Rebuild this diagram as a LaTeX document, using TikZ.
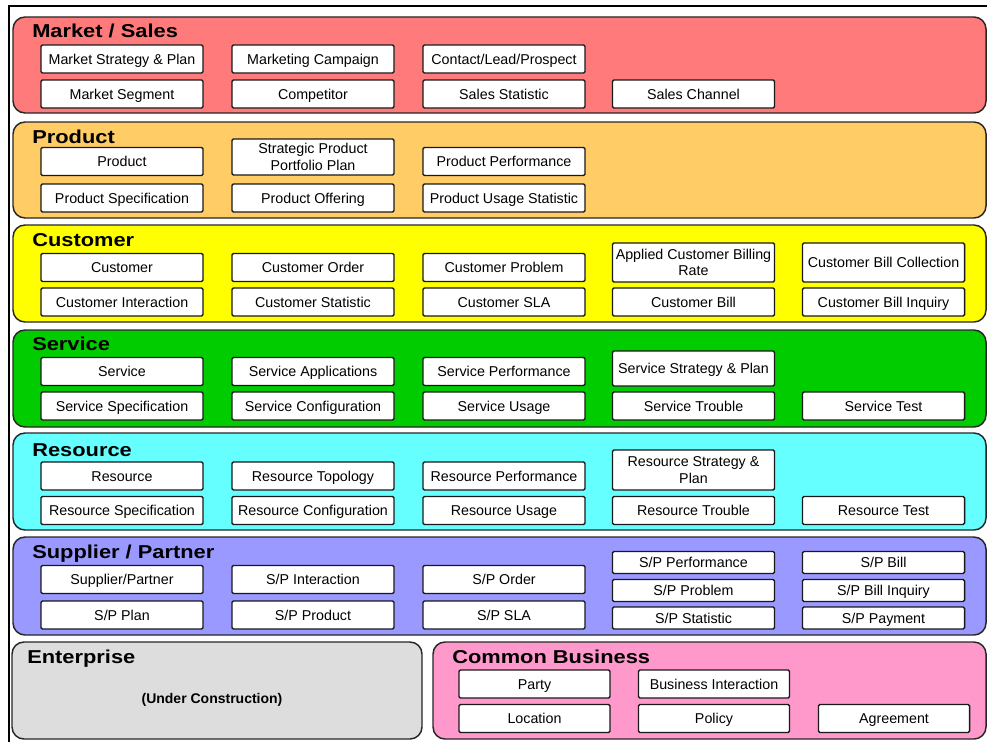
\documentclass[tikz,border=0pt]{standalone}
\usepackage{fontspec}
\setmainfont{Liberation Sans}
\newfontfamily\titlefont[FakeStretch=1.17]{Liberation Sans}

\definecolor{mktred}{HTML}{FF7A7A}
\definecolor{prodorange}{HTML}{FFCC66}
\definecolor{custyellow}{HTML}{FFFF00}
\definecolor{servgreen}{HTML}{00CC00}
\definecolor{rescyan}{HTML}{66FFFF}
\definecolor{suppblue}{HTML}{9999FF}
\definecolor{entgray}{HTML}{DDDDDD}
\definecolor{compink}{HTML}{FF99CC}

\begin{document}
\begin{tikzpicture}[x=0.75pt, y=-0.75pt,
    band/.style={draw=black!85, line width=1.1pt, rounded corners=9pt},
    item/.style={draw=black!90, line width=1.1pt, fill=white, rounded corners=1pt,
        minimum width=121.5pt, minimum height=21pt, inner sep=1pt, align=center,
        text height=8pt, text depth=0.4pt,
        font=\fontsize{10.7}{12.5}\selectfont},
    twoline/.style={text height=, text depth=},
    title/.style={anchor=base west, inner sep=0pt,
        font=\titlefont\bfseries\fontsize{14}{16}\selectfont}]
    \useasboundingbox (0,0) rectangle (987,742);
    \draw[line width=1.5pt] (9,742) -- (9,6) -- (987,6);

    % bands
    \draw[band, fill=mktred] (13,17) rectangle (986,113);
    \draw[band, fill=prodorange] (13,122) rectangle (986,218);
    \draw[band, fill=custyellow] (13,225) rectangle (986,322);
    \draw[band, fill=servgreen] (13,330) rectangle (986,427);
    \draw[band, fill=rescyan] (13,433) rectangle (986,530);
    \draw[band, fill=suppblue] (13,537) rectangle (986,635);
    \draw[band, fill=entgray] (12,642) rectangle (422,739);
    \draw[band, fill=compink] (433,642) rectangle (986,739);

    % market / sales
    \node[title] (mkt) at (32,38) {Market / Sales};
    \node[item] (m1) at (122,59) {Market Strategy \& Plan};
    \node[item] (m2) at (313,59) {Marketing Campaign};
    \node[item] (m3) at (504,59) {Contact/Lead/Prospect};
    \node[item] (m4) at (122,94) {Market Segment};
    \node[item] (m5) at (313,94) {Competitor};
    \node[item] (m6) at (504,94) {Sales Statistic};
    \node[item] (m7) at (693.5,94) {Sales Channel};

    % product
    \node[title] (prod) at (32,143) {Product};
    \node[item] (p1) at (122,161.5) {Product};
    \node[item, twoline, minimum height=27pt] (p2) at (313,157) {Strategic Product\\Portfolio Plan};
    \node[item] (p3) at (504,161.5) {Product Performance};
    \node[item] (p4) at (122,198) {Product Specification};
    \node[item] (p5) at (313,198) {Product Offering};
    \node[item] (p6) at (504,198) {Product Usage Statistic};

    % customer
    \node[title] (cust) at (32,246) {Customer};
    \node[item] (c1) at (122,267.5) {Customer};
    \node[item] (c2) at (313,267.5) {Customer Order};
    \node[item] (c3) at (504,267.5) {Customer Problem};
    \node[item, twoline, minimum height=29.25pt] (c4) at (693.5,262.5) {Applied Customer Billing\\Rate};
    \node[item, minimum height=29.25pt] (c5) at (883.5,262.5) {Customer Bill Collection};
    \node[item] (c6) at (122,302) {Customer Interaction};
    \node[item] (c7) at (313,302) {Customer Statistic};
    \node[item] (c8) at (504,302) {Customer SLA};
    \node[item] (c9) at (693.5,302) {Customer Bill};
    \node[item] (c10) at (883.5,302) {Customer Bill Inquiry};

    % service
    \node[title] (serv) at (32,350) {Service};
    \node[item] (s1) at (122,371.5) {Service};
    \node[item] (s2) at (313,371.5) {Service Applications};
    \node[item] (s3) at (504,371.5) {Service Performance};
    \node[item, minimum height=26.25pt] (s4) at (693.5,368.5) {Service Strategy \& Plan};
    \node[item] (s5) at (122,406) {Service Specification};
    \node[item] (s6) at (313,406) {Service Configuration};
    \node[item] (s7) at (504,406) {Service Usage};
    \node[item] (s8) at (693.5,406) {Service Trouble};
    \node[item] (s9) at (883.5,406) {Service Test};

    % resource
    \node[title] (res) at (32,456) {Resource};
    \node[item] (r1) at (122,476) {Resource};
    \node[item] (r2) at (313,476) {Resource Topology};
    \node[item] (r3) at (504,476) {Resource Performance};
    \node[item, twoline, minimum height=30pt] (r4) at (693.5,470) {Resource Strategy \&\\Plan};
    \node[item] (r5) at (122,510.5) {Resource Specification};
    \node[item] (r6) at (313,510.5) {Resource Configuration};
    \node[item] (r7) at (504,510.5) {Resource Usage};
    \node[item] (r8) at (693.5,510.5) {Resource Trouble};
    \node[item] (r9) at (883.5,510.5) {Resource Test};

    % supplier / partner
    \node[title] (supp) at (32,558) {Supplier / Partner};
    \node[item] (sp1) at (122,579.5) {Supplier/Partner};
    \node[item] (sp2) at (313,579.5) {S/P Interaction};
    \node[item] (sp3) at (504,579.5) {S/P Order};
    \node[item] (sp4) at (122,615) {S/P Plan};
    \node[item] (sp5) at (313,615) {S/P Product};
    \node[item] (sp6) at (504,615) {S/P SLA};
    \node[item, minimum height=16.5pt] (sp7) at (693.5,562.5) {S/P Performance};
    \node[item, minimum height=16.5pt] (sp8) at (693.5,590.5) {S/P Problem};
    \node[item, minimum height=16.5pt] (sp9) at (693.5,618) {S/P Statistic};
    \node[item, minimum height=16.5pt] (sp10) at (883.5,562.5) {S/P Bill};
    \node[item, minimum height=16.5pt] (sp11) at (883.5,590.5) {S/P Bill Inquiry};
    \node[item, minimum height=16.5pt] (sp12) at (883.5,618) {S/P Payment};

    % enterprise
    \node[title] (ent) at (27,663) {Enterprise};
    \node[font=\bfseries\fontsize{10.5}{12}\selectfont] (uc) at (212,700) {(Under Construction)};

    % common business
    \node[title] (com) at (452,663) {Common Business};
    \node[item, minimum width=113.25pt] (cb1) at (534.5,684) {Party};
    \node[item, minimum width=113.25pt] (cb2) at (714,684) {Business Interaction};
    \node[item, minimum width=113.25pt] (cb3) at (534.5,718.5) {Location};
    \node[item, minimum width=113.25pt] (cb4) at (714,718.5) {Policy};
    \node[item, minimum width=113.25pt] (cb5) at (894,718.5) {Agreement};
\end{tikzpicture}
\end{document}
